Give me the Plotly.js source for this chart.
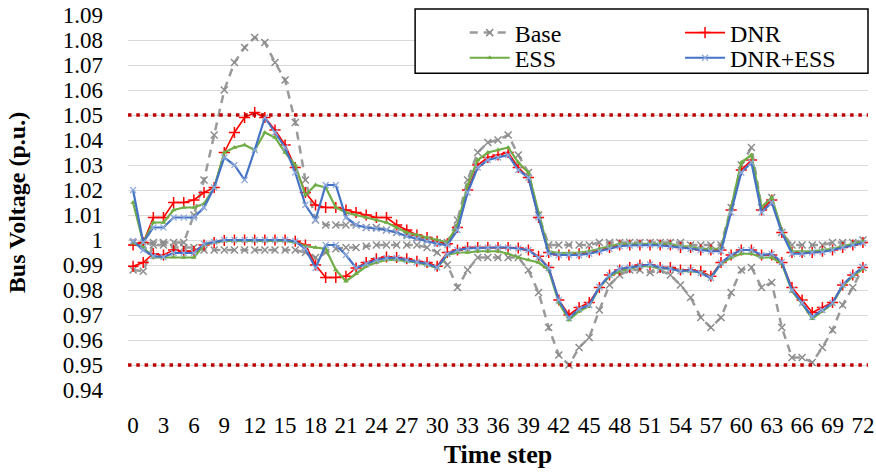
<!DOCTYPE html>
<html>
<head>
<meta charset="utf-8">
<script src="https://cdn.plot.ly/plotly-3.0.1.min.js"></script>
<style>html,body{margin:0;padding:0;background:#fff;}#chart{width:876px;height:474px;}</style>
</head>
<body>
<div id="chart"></div>
<script>
// Time steps 0..72
const timeSteps = Array.from({length: 73}, (_, i) => i);
const xTickVals = [0,3,6,9,12,15,18,21,24,27,30,33,36,39,42,45,48,51,54,57,60,63,66,69,72];
const limits = [1.05, 0.95];

// Base (upper / lower envelope of bus voltages)
const baseUp = [
 0.999,0.998,0.999,0.999,0.999,0.999,1.010,1.024,1.042,1.060,
 1.071,1.077,1.081,1.079,1.071,1.064,1.047,1.024,1.008,1.006,
 1.006,1.006,1.006,1.005,1.005,1.004,1.003,1.002,1.001,1.000,
 0.999,0.999,1.008,1.024,1.035,1.039,1.040,1.042,1.034,1.027,
 1.010,0.998,0.998,0.998,0.998,0.998,0.999,0.999,0.999,0.999,
 0.999,0.999,0.999,0.999,0.999,0.998,0.998,0.998,0.998,1.013,
 1.030,1.037,1.013,1.017,1.003,0.998,0.998,0.998,0.998,0.999,
 0.999,0.999,1.000];
const baseLow = [
 0.988,0.9875,0.998,0.998,0.997,0.997,0.997,0.996,0.996,0.996,
 0.996,0.996,0.996,0.996,0.996,0.996,0.996,0.995,0.993,0.995,
 0.9965,0.997,0.997,0.9975,0.998,0.998,0.998,0.998,0.998,0.997,
 0.995,0.990,0.981,0.988,0.993,0.993,0.993,0.993,0.993,0.988,
 0.979,0.965,0.954,0.950,0.957,0.961,0.972,0.982,0.986,0.988,
 0.988,0.987,0.988,0.986,0.982,0.977,0.969,0.965,0.969,0.979,
 0.988,0.989,0.981,0.983,0.965,0.953,0.953,0.951,0.957,0.964,
 0.974,0.981,0.989];

// DNR
const dnrUp = [
 0.998,0.999,1.009,1.009,1.015,1.015,1.016,1.019,1.021,1.035,
 1.043,1.049,1.051,1.049,1.044,1.038,1.029,1.019,1.014,1.013,
 1.013,1.012,1.011,1.010,1.009,1.009,1.006,1.004,1.002,1.001,
 0.9995,0.9985,1.005,1.020,1.030,1.033,1.034,1.035,1.029,1.025,
 1.009,0.995,0.994,0.994,0.9945,0.995,0.996,0.997,0.998,0.998,
 0.998,0.998,0.998,0.998,0.997,0.997,0.996,0.996,0.996,1.012,
 1.028,1.032,1.012,1.016,1.003,0.995,0.995,0.995,0.9955,0.996,
 0.997,0.998,0.999];
const dnrLow = [
 0.9895,0.991,0.9945,0.994,0.996,0.9955,0.9955,0.998,0.999,0.9998,
 1.000,1.000,1.000,1.000,1.000,1.000,0.9995,0.998,0.990,0.985,
 0.985,0.9855,0.9888,0.991,0.9925,0.9932,0.993,0.9925,0.9915,0.991,
 0.9895,0.995,0.996,0.997,0.997,0.997,0.997,0.997,0.9968,0.996,
 0.9935,0.989,0.976,0.970,0.973,0.975,0.981,0.986,0.988,0.989,
 0.990,0.990,0.989,0.989,0.988,0.988,0.9875,0.9855,0.991,0.994,
 0.996,0.996,0.994,0.994,0.991,0.981,0.976,0.971,0.973,0.975,
 0.982,0.986,0.989];

// ESS
const essUp = [
 1.015,0.999,1.007,1.007,1.012,1.013,1.013,1.0145,1.021,1.035,
 1.037,1.038,1.036,1.043,1.041,1.035,1.030,1.018,1.022,1.021,
 1.013,1.011,1.010,1.009,1.008,1.007,1.005,1.003,1.002,1.001,
 1.000,0.999,1.006,1.022,1.032,1.035,1.036,1.037,1.031,1.027,
 1.011,0.9955,0.9948,0.9948,0.995,0.9955,0.9965,0.9975,0.9985,0.9985,
 0.9985,0.9985,0.9985,0.9985,0.9975,0.9975,0.9965,0.9965,0.9965,1.013,
 1.031,1.034,1.013,1.017,1.004,0.9955,0.9955,0.9955,0.996,0.9965,
 0.9975,0.9985,0.9995];
const essLow = [
 0.9988,0.997,0.993,0.993,0.9932,0.993,0.993,0.998,0.999,0.9996,
 0.9996,0.9996,0.9996,0.9996,0.9996,0.9996,0.999,0.9975,0.997,0.9965,
 0.988,0.9835,0.9865,0.9895,0.991,0.992,0.992,0.9915,0.991,0.990,
 0.9888,0.994,0.995,0.995,0.9955,0.9955,0.9955,0.9945,0.993,0.992,
 0.991,0.988,0.975,0.968,0.9715,0.9735,0.981,0.9855,0.9875,0.9885,
 0.9895,0.9895,0.9885,0.9885,0.9875,0.9875,0.987,0.985,0.9905,0.993,
 0.9945,0.9945,0.993,0.993,0.9905,0.9795,0.9745,0.9685,0.9715,0.9745,
 0.9815,0.9855,0.9885];

// DNR+ESS
const bothUp = [
 1.020,0.999,1.005,1.005,1.009,1.009,1.009,1.013,1.021,1.033,
 1.030,1.024,1.036,1.049,1.043,1.037,1.027,1.014,1.008,1.022,
 1.022,1.009,1.006,1.005,1.0045,1.004,1.003,1.0015,1.0005,0.9995,
 0.9985,0.998,1.004,1.019,1.029,1.032,1.033,1.034,1.028,1.025,
 1.009,0.9945,0.994,0.994,0.994,0.9945,0.9955,0.9965,0.9975,0.9978,
 0.998,0.998,0.9978,0.9975,0.997,0.9965,0.996,0.9955,0.9955,1.011,
 1.027,1.031,1.011,1.015,1.003,0.9945,0.9945,0.995,0.9952,0.996,
 0.997,0.998,0.9988];
const bothLow = [
 0.9996,0.996,0.9936,0.9932,0.9948,0.9948,0.9948,0.9984,0.9992,1.000,
 1.000,1.000,1.000,1.000,1.000,1.000,0.9995,0.9965,0.9888,0.998,
 0.998,0.994,0.9888,0.9905,0.992,0.9928,0.9928,0.992,0.9912,0.9905,
 0.989,0.9944,0.996,0.9966,0.9968,0.997,0.997,0.997,0.9966,0.996,
 0.993,0.9888,0.976,0.9688,0.9724,0.974,0.9812,0.986,0.9885,0.989,
 0.9898,0.9902,0.989,0.9885,0.9875,0.988,0.9868,0.9848,0.9908,0.994,
 0.996,0.996,0.994,0.9944,0.9912,0.980,0.9748,0.9692,0.972,0.9748,
 0.982,0.986,0.9892];

const FONT = '"Liberation Serif"';

const styles = {
  base: {name: 'Base', legend: 'legend', line: {color: '#9a9a9a', width: 2.5, dash: '8px,6px'},
         marker: {symbol: 'x-thin', size: 7, line: {color: '#8c8c8c', width: 1.5}, color: '#8c8c8c'}},
  dnr:  {name: 'DNR', legend: 'legend2', line: {color: '#ff0000', width: 1.6},
         marker: {symbol: 'cross-thin', size: 8, line: {color: '#ff0000', width: 1.5}, color: '#ff0000'}},
  ess:  {name: 'ESS', legend: 'legend3', line: {color: '#70ad47', width: 2.2},
         marker: {symbol: 'triangle-up', size: 5, color: '#70ad47', line: {width: 0}}},
  both: {name: 'DNR+ESS', legend: 'legend4', line: {color: '#4472c4', width: 2.2},
         marker: {symbol: 'x-thin', size: 6, line: {color: '#8faadc', width: 1.2}, color: '#8faadc'}}
};

function pair(key, up, low) {
  const s = styles[key];
  const common = {x: timeSteps, type: 'scatter', mode: 'lines+markers', legendgroup: key,
                  legend: s.legend, line: s.line, marker: s.marker, hoverinfo: 'x+y'};
  return [
    Object.assign({}, common, {y: up, name: s.name, showlegend: true}),
    Object.assign({}, common, {y: low, name: s.name, showlegend: false})
  ];
}

const data = [].concat(
  pair('base', baseUp, baseLow),
  pair('dnr', dnrUp, dnrLow),
  pair('ess', essUp, essLow),
  pair('both', bothUp, bothLow)
);

const shapes = limits.map(v => ({
  type: 'line', xref: 'paper', x0: 0, x1: 1, yref: 'y', y0: v, y1: v,
  line: {color: '#c00000', width: 3.5, dash: '3.5px,4.8px'}, layer: 'above'
}));
shapes.push({type: 'rect', xref: 'paper', yref: 'paper', x0: 0.388, x1: 1.0, y0: 0.845, y1: 1.016,
  line: {color: '#000', width: 1.5}, fillcolor: '#fff', layer: 'above'});

function legendAt(x, y) {
  return {x: x, y: y, xanchor: 'left', yanchor: 'middle', bgcolor: 'rgba(0,0,0,0)',
          borderwidth: 0, tracegroupgap: 0, itemwidth: 40, font: {family: FONT, size: 24}};
}

const layout = {
  width: 876, height: 474,
  margin: {l: 128, r: 8, t: 15, b: 84},
  paper_bgcolor: '#fff', plot_bgcolor: '#fff',
  font: {family: FONT, size: 22, color: '#000'},
  showlegend: true,
  xaxis: {
    range: [-0.5, 72.5], tickmode: 'array', tickvals: xTickVals,
    showgrid: false, zeroline: false, showline: false, ticks: '',
    ticklabelstandoff: 19, tickfont: {family: FONT, size: 23},
    title: {text: 'Time step', font: {family: FONT, size: 26, weight: 'bold'}, standoff: 7}
  },
  yaxis: {
    range: [0.94, 1.09], tickmode: 'linear', tick0: 0.94, dtick: 0.01,
    showgrid: true, gridcolor: '#d9d9d9', gridwidth: 1, zeroline: false, showline: false, ticks: '',
    ticklabelstandoff: 24, tickfont: {family: FONT, size: 23},
    title: {text: 'Bus Voltage (p.u.)', font: {family: FONT, size: 24, weight: 'bold'}, standoff: 30}
  },
  legend: legendAt(0.455, 0.952),
  legend2: legendAt(0.746, 0.952),
  legend3: legendAt(0.455, 0.885),
  legend4: legendAt(0.746, 0.885),
  shapes: shapes
};

Plotly.newPlot('chart', data, layout, {displayModeBar: false, staticPlot: true});
</script>
</body>
</html>
